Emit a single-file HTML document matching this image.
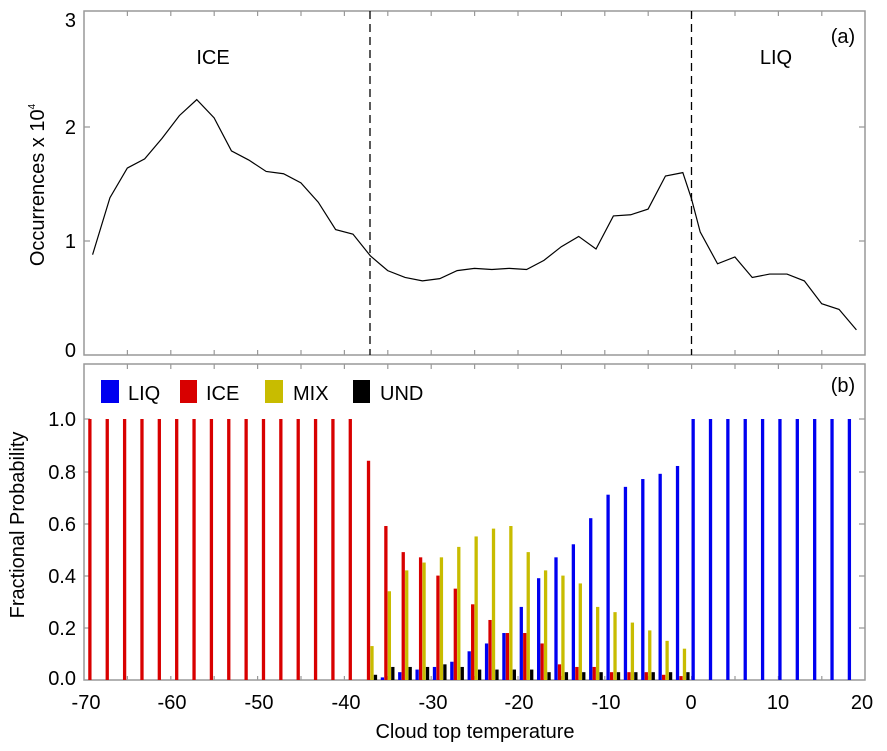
<!DOCTYPE html>
<html><head><meta charset="utf-8"><style>
body{margin:0;background:#fff}
svg{display:block;font-family:"Liberation Sans",Arial,sans-serif}
</style></head><body>
<svg width="887" height="751" viewBox="0 0 887 751" xmlns="http://www.w3.org/2000/svg">
<rect width="887" height="751" fill="#fff"/>
<!-- top panel frame -->
<rect x="84" y="11" width="781" height="344" fill="none" stroke="#999" stroke-width="1.5"/>
<!-- bottom panel frame -->
<rect x="84" y="364" width="781" height="316" fill="none" stroke="#999" stroke-width="1.5"/>
<g stroke="#999" stroke-width="1.2">
<!-- x ticks every 5 deg: top panel bottom & top, bottom panel top & bottom -->
<path d="M127.4 355v-5M170.8 355v-5M214.2 355v-5M257.6 355v-5M301 355v-5M344.4 355v-5M387.8 355v-5M431.2 355v-5M474.6 355v-5M518 355v-5M561.4 355v-5M604.8 355v-5M648.2 355v-5M691.6 355v-5M735 355v-5M778.4 355v-5M821.8 355v-5
M127.4 11v5M170.8 11v5M214.2 11v5M257.6 11v5M301 11v5M344.4 11v5M387.8 11v5M431.2 11v5M474.6 11v5M518 11v5M561.4 11v5M604.8 11v5M648.2 11v5M691.6 11v5M735 11v5M778.4 11v5M821.8 11v5
M127.4 364v5M170.8 364v5M214.2 364v5M257.6 364v5M301 364v5M344.4 364v5M387.8 364v5M431.2 364v5M474.6 364v5M518 364v5M561.4 364v5M604.8 364v5M648.2 364v5M691.6 364v5M735 364v5M778.4 364v5M821.8 364v5
M127.4 680v-4M170.8 680v-4M214.2 680v-4M257.6 680v-4M301 680v-4M344.4 680v-4M387.8 680v-4M431.2 680v-4M474.6 680v-4M518 680v-4M561.4 680v-4M604.8 680v-4M648.2 680v-4M691.6 680v-4M735 680v-4M778.4 680v-4M821.8 680v-4
M84 241h6M84 127h6M865 241h-6M865 127h-6
M84 628h6M84 576h6M84 524h6M84 472h6M84 419h6M865 628h-6M865 576h-6M865 524h-6M865 472h-6M865 419h-6"/>
</g>
<!-- dashed lines -->
<path d="M370 11V355M691.5 11V355" stroke="#000" stroke-width="1.3" stroke-dasharray="8,5"/>
<!-- occurrence line -->
<g transform="translate(691.5,355) scale(8.68,-114)">
<polyline fill="none" stroke="#000" stroke-width="1.2" vector-effect="non-scaling-stroke" points="-69,0.88 -67,1.38 -65,1.64 -63,1.72 -61,1.90 -59,2.10 -57,2.24 -55,2.08 -53,1.79 -51,1.71 -49,1.61 -47,1.59 -45,1.51 -43,1.34 -41,1.10 -39,1.06 -37,0.87 -35,0.74 -33,0.68 -31,0.65 -29,0.67 -27,0.74 -25,0.76 -23,0.75 -21,0.76 -19,0.75 -17,0.83 -15,0.95 -13,1.04 -11,0.93 -9,1.22 -7,1.23 -5,1.28 -3,1.57 -1,1.60 0,1.37 1,1.08 3,0.80 5,0.86 7,0.68 9,0.71 11,0.71 13,0.65 15,0.45 17,0.40 19,0.22"/>
</g>
<!-- bars -->
<g transform="translate(691.5,680) scale(8.68,-261)">
<g fill="#d80000">
<rect x="-69.5" width="0.38" height="1"/><rect x="-67.5" width="0.38" height="1"/><rect x="-65.5" width="0.38" height="1"/><rect x="-63.5" width="0.38" height="1"/><rect x="-61.5" width="0.38" height="1"/><rect x="-59.5" width="0.38" height="1"/><rect x="-57.5" width="0.38" height="1"/><rect x="-55.5" width="0.38" height="1"/><rect x="-53.5" width="0.38" height="1"/><rect x="-51.5" width="0.38" height="1"/><rect x="-49.5" width="0.38" height="1"/><rect x="-47.5" width="0.38" height="1"/><rect x="-45.5" width="0.38" height="1"/><rect x="-43.5" width="0.38" height="1"/><rect x="-41.5" width="0.38" height="1"/><rect x="-39.5" width="0.38" height="1"/>
<rect x="-37.4" width="0.38" height="0.84"/><rect x="-35.4" width="0.38" height="0.59"/><rect x="-33.4" width="0.38" height="0.49"/><rect x="-31.4" width="0.38" height="0.47"/><rect x="-29.4" width="0.38" height="0.40"/><rect x="-27.4" width="0.38" height="0.35"/><rect x="-25.4" width="0.38" height="0.29"/><rect x="-23.4" width="0.38" height="0.23"/><rect x="-21.4" width="0.38" height="0.18"/><rect x="-19.4" width="0.38" height="0.18"/><rect x="-17.4" width="0.38" height="0.14"/><rect x="-15.4" width="0.38" height="0.06"/><rect x="-13.4" width="0.38" height="0.05"/><rect x="-11.4" width="0.38" height="0.05"/><rect x="-9.4" width="0.38" height="0.03"/><rect x="-7.4" width="0.38" height="0.03"/><rect x="-5.4" width="0.38" height="0.03"/><rect x="-3.4" width="0.38" height="0.02"/><rect x="-1.4" width="0.38" height="0.015"/>
</g>
<g fill="#0000f0">
<rect x="-35.8" width="0.38" height="0.01"/><rect x="-33.8" width="0.38" height="0.03"/><rect x="-31.8" width="0.38" height="0.04"/><rect x="-29.8" width="0.38" height="0.05"/><rect x="-27.8" width="0.38" height="0.07"/><rect x="-25.8" width="0.38" height="0.11"/><rect x="-23.8" width="0.38" height="0.14"/><rect x="-21.8" width="0.38" height="0.18"/><rect x="-19.8" width="0.38" height="0.28"/><rect x="-17.8" width="0.38" height="0.39"/><rect x="-15.8" width="0.38" height="0.47"/><rect x="-13.8" width="0.38" height="0.52"/><rect x="-11.8" width="0.38" height="0.62"/><rect x="-9.8" width="0.38" height="0.71"/><rect x="-7.8" width="0.38" height="0.74"/><rect x="-5.8" width="0.38" height="0.77"/><rect x="-3.8" width="0.38" height="0.79"/><rect x="-1.8" width="0.38" height="0.82"/>
<rect x="0" width="0.38" height="1"/><rect x="2" width="0.38" height="1"/><rect x="4" width="0.38" height="1"/><rect x="6" width="0.38" height="1"/><rect x="8" width="0.38" height="1"/><rect x="10" width="0.38" height="1"/><rect x="12" width="0.38" height="1"/><rect x="14" width="0.38" height="1"/><rect x="16" width="0.38" height="1"/><rect x="18" width="0.38" height="1"/>
</g>
<g fill="#c8bc00">
<rect x="-37" width="0.38" height="0.13"/><rect x="-35" width="0.38" height="0.34"/><rect x="-33" width="0.38" height="0.42"/><rect x="-31" width="0.38" height="0.45"/><rect x="-29" width="0.38" height="0.47"/><rect x="-27" width="0.38" height="0.51"/><rect x="-25" width="0.38" height="0.55"/><rect x="-23" width="0.38" height="0.58"/><rect x="-21" width="0.38" height="0.59"/><rect x="-19" width="0.38" height="0.49"/><rect x="-17" width="0.38" height="0.42"/><rect x="-15" width="0.38" height="0.40"/><rect x="-13" width="0.38" height="0.37"/><rect x="-11" width="0.38" height="0.28"/><rect x="-9" width="0.38" height="0.26"/><rect x="-7" width="0.38" height="0.22"/><rect x="-5" width="0.38" height="0.19"/><rect x="-3" width="0.38" height="0.15"/><rect x="-1" width="0.38" height="0.12"/>
</g>
<g fill="#000">
<rect x="-36.6" width="0.38" height="0.02"/><rect x="-34.6" width="0.38" height="0.05"/><rect x="-32.6" width="0.38" height="0.05"/><rect x="-30.6" width="0.38" height="0.05"/><rect x="-28.6" width="0.38" height="0.06"/><rect x="-26.6" width="0.38" height="0.05"/><rect x="-24.6" width="0.38" height="0.04"/><rect x="-22.6" width="0.38" height="0.04"/><rect x="-20.6" width="0.38" height="0.04"/><rect x="-18.6" width="0.38" height="0.04"/><rect x="-16.6" width="0.38" height="0.03"/><rect x="-14.6" width="0.38" height="0.03"/><rect x="-12.6" width="0.38" height="0.03"/><rect x="-10.6" width="0.38" height="0.03"/><rect x="-8.6" width="0.38" height="0.03"/><rect x="-6.6" width="0.38" height="0.03"/><rect x="-4.6" width="0.38" height="0.03"/><rect x="-2.6" width="0.38" height="0.03"/><rect x="-0.6" width="0.38" height="0.03"/>
</g>
</g>
<!-- texts -->
<g font-size="20" fill="#000">
<g text-anchor="end">
<text x="76" y="27">3</text><text x="76" y="134">2</text><text x="76" y="248">1</text><text x="76" y="357">0</text>
<text x="76" y="426">1.0</text><text x="76" y="479">0.8</text><text x="76" y="531">0.6</text><text x="76" y="583">0.4</text><text x="76" y="635">0.2</text><text x="76" y="685">0.0</text>
</g>
<g text-anchor="middle">
<text x="86" y="709">-70</text><text x="172" y="709">-60</text><text x="259" y="709">-50</text><text x="346" y="709">-40</text><text x="433" y="709">-30</text><text x="519" y="709">-20</text><text x="606" y="709">-10</text><text x="691" y="709">0</text><text x="778" y="709">10</text><text x="862" y="709">20</text>
<text x="475" y="738">Cloud top temperature</text>
<text x="213" y="64">ICE</text><text x="776" y="64">LIQ</text>
<text x="843" y="43">(a)</text><text x="843" y="392">(b)</text>
<text transform="translate(44,185) rotate(-90)">Occurrences x 10<tspan font-size="10" dy="-9">4</tspan></text>
<text transform="translate(24,525) rotate(-90)">Fractional Probability</text>
</g>
<rect x="101" y="380" width="18" height="23" fill="#0000f0"/><text x="128" y="400">LIQ</text>
<rect x="180" y="380" width="17" height="23" fill="#d80000"/><text x="206" y="400">ICE</text>
<rect x="265" y="380" width="18" height="23" fill="#c8bc00"/><text x="293" y="400">MIX</text>
<rect x="353" y="380" width="17" height="23" fill="#000"/><text x="380" y="400">UND</text>
</g>
</svg>
</body></html>
